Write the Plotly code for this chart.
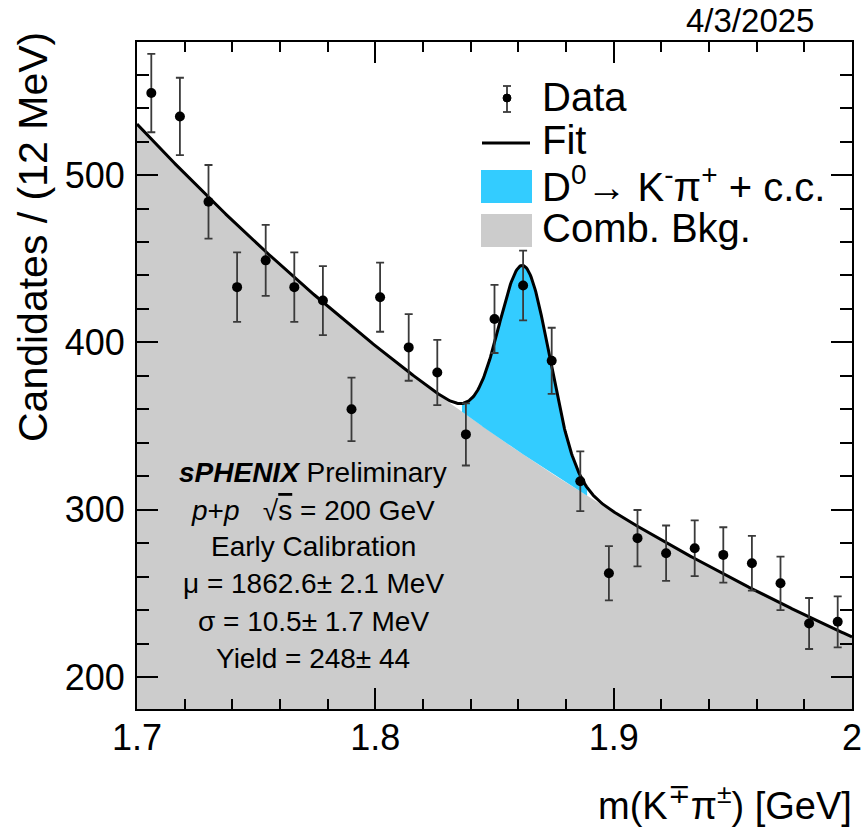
import numpy as np
import plotly.graph_objects as go

# ---------------- data ----------------
bin_centers = [1.706, 1.718, 1.730, 1.742, 1.754, 1.766, 1.778, 1.790, 1.802,
               1.814, 1.826, 1.838, 1.850, 1.862, 1.874, 1.886, 1.898, 1.910,
               1.922, 1.934, 1.946, 1.958, 1.970, 1.982, 1.994]
counts = [549, 535, 484, 433, 449, 433, 425, 360, 427, 397, 382, 345, 414,
          434, 389, 317, 262, 283, 274, 277, 273, 268, 256, 232, 233]

# fit parameters (signal from the on-plot labels, background)
fit_mu = 1.8626        # GeV
fit_sigma = 0.0105     # GeV
fit_yield = 248.0      # candidates
bin_width = 0.012      # GeV
bkg_at_lo = 530.5      # background at 1.7 GeV
bkg_at_hi = 224.0      # background at 2.0 GeV
x_lo, x_hi = 1.7, 2.0

# ---------------- fit model curves ----------------
xs = np.linspace(x_lo, x_hi, 901)
slope = np.log(bkg_at_hi / bkg_at_lo) / (x_hi - x_lo)
def bkg(x):
    return bkg_at_lo * np.exp(slope * (x - x_lo))
def sig(x):
    amp = fit_yield * bin_width / (np.sqrt(2 * np.pi) * fit_sigma)
    return amp * np.exp(-0.5 * ((x - fit_mu) / fit_sigma) ** 2)
bg = bkg(xs)
total = bg + sig(xs)
xs_sig = np.linspace(fit_mu - 2.5 * fit_sigma, fit_mu + 2.5 * fit_sigma, 301)
bg_sig = bkg(xs_sig)
tot_sig = bg_sig + sig(xs_sig)

errors = np.sqrt(np.array(counts, dtype=float))

FONT = "Liberation Sans, Arial, Helvetica, sans-serif"
BLUE = "#33ccff"
GREY = "#cccccc"

fig = go.Figure()
fig.add_trace(go.Scatter(x=xs, y=bg, mode="lines", line=dict(width=0, color=GREY),
                         fill="tozeroy", fillcolor=GREY, hoverinfo="skip", showlegend=False))
fig.add_trace(go.Scatter(x=np.concatenate([xs_sig, xs_sig[::-1]]),
                         y=np.concatenate([tot_sig, bg_sig[::-1]]),
                         mode="lines", line=dict(width=0, color=BLUE), fill="toself",
                         fillcolor=BLUE, hoverinfo="skip", showlegend=False))
fig.add_trace(go.Scatter(x=xs, y=total, mode="lines", line=dict(color="black", width=3),
                         showlegend=False))
fig.add_trace(go.Scatter(x=bin_centers, y=counts, mode="markers",
                         marker=dict(color="black", size=10),
                         error_y=dict(type="data", array=errors, color="#3a3a3a",
                                      thickness=1.8, width=4),
                         showlegend=False))

# ---------------- layout ----------------
L, R, T, B = 137, 12, 42, 121
W, H = 864, 830
pw, ph = W - L - R, H - T - B
def px2x(px):
    return (px - L) / pw
def py2y(py):
    return (H - B - py) / ph

axis_common = dict(showgrid=False, zeroline=False, showline=True, linecolor="black",
                   linewidth=2, ticks="inside", tickcolor="black", tickwidth=1.5,
                   mirror="ticks", automargin=False,
                   tickfont=dict(family=FONT, size=36, color="black"))

fig.update_layout(
    width=W, height=H, margin=dict(l=L, r=R, t=T, b=B, autoexpand=False),
    paper_bgcolor="white", plot_bgcolor="white", showlegend=False,
    xaxis=dict(range=[x_lo, x_hi + 1e-9], tickmode="linear", tick0=1.7, dtick=0.1,
               ticklen=21, minor=dict(dtick=0.02, tick0=1.7, ticklen=10, tickwidth=1.5,
                                      ticks="inside", tickcolor="black"),
               ticklabelstandoff=-4, **axis_common),
    yaxis=dict(range=[180.9, 579.5], tickmode="linear", tick0=0, dtick=100,
               ticklen=21, minor=dict(dtick=20, tick0=0, ticklen=12, tickwidth=1.5,
                                      ticks="inside", tickcolor="black"),
               ticklabelstandoff=3, **axis_common),
)

annotations = []
# axis titles
annotations.append(dict(text="Candidates / (12 MeV)", xref="paper", yref="paper",
                        x=px2x(33), y=py2y(30), xanchor="center", yanchor="top",
                        textangle=-90, showarrow=False,
                        font=dict(family=FONT, size=41, color="black")))
annotations.append(dict(text="m(K<sup>∓</sup>π<sup>±</sup>) [GeV]", xref="paper", yref="paper",
                        x=px2x(854), y=py2y(803), xanchor="right", yanchor="middle",
                        showarrow=False, font=dict(family=FONT, size=38, color="black")))
# date
annotations.append(dict(text="4/3/2025", xref="paper", yref="paper",
                        x=px2x(816), y=py2y(21), xanchor="right", yanchor="middle",
                        showarrow=False, font=dict(family=FONT, size=33, color="black")))
# legend texts
leg_font = dict(family=FONT, size=40, color="black")
for txt, yc in [("Data", 97), ("Fit", 140),
                ("D<sup>0</sup>→ K<sup>-</sup>π<sup>+</sup> + c.c.", 184),
                ("Comb. Bkg.", 228)]:
    annotations.append(dict(text=txt, xref="paper", yref="paper", x=px2x(540), y=py2y(yc),
                            xanchor="left", yanchor="middle", showarrow=False, font=leg_font))
# info block
info_font = dict(family=FONT, size=28, color="black")
info_lines = [
    ("<b><i>sPHENIX</i></b> Preliminary", 472),
    ("<i>p</i>+<i>p</i>   √<span style='text-decoration:overline'>s</span> = 200 GeV", 510),
    ("Early Calibration", 546),
    ("μ = 1862.6± 2.1 MeV", 583),
    ("σ = 10.5± 1.7 MeV", 621),
    ("Yield = 248± 44", 658),
]
for txt, yc in info_lines:
    annotations.append(dict(text=txt, xref="paper", yref="paper", x=px2x(313), y=py2y(yc),
                            xanchor="center", yanchor="middle", showarrow=False, font=info_font))
fig.update_layout(annotations=annotations)

# legend symbols (paper coordinates)
shapes = []
mx = px2x(507)
shapes.append(dict(type="line", xref="paper", yref="paper", x0=mx, x1=mx, y0=py2y(86), y1=py2y(112),
                   line=dict(color="#3a3a3a", width=1.8)))
for cy in (86, 112):
    shapes.append(dict(type="line", xref="paper", yref="paper", x0=px2x(503), x1=px2x(511),
                       y0=py2y(cy), y1=py2y(cy), line=dict(color="#3a3a3a", width=1.8)))
shapes.append(dict(type="circle", xref="paper", yref="paper", x0=px2x(503), x1=px2x(511),
                   y0=py2y(102), y1=py2y(94), fillcolor="black", line=dict(color="black", width=1)))
shapes.append(dict(type="line", xref="paper", yref="paper", x0=px2x(482), x1=px2x(530),
                   y0=py2y(143), y1=py2y(143), line=dict(color="black", width=3)))
shapes.append(dict(type="rect", xref="paper", yref="paper", x0=px2x(481), x1=px2x(532),
                   y0=py2y(203), y1=py2y(170), fillcolor=BLUE, line=dict(width=0)))
shapes.append(dict(type="rect", xref="paper", yref="paper", x0=px2x(481), x1=px2x(532),
                   y0=py2y(247), y1=py2y(214), fillcolor=GREY, line=dict(width=0)))
fig.update_layout(shapes=shapes)

fig.write_html("out.html")
